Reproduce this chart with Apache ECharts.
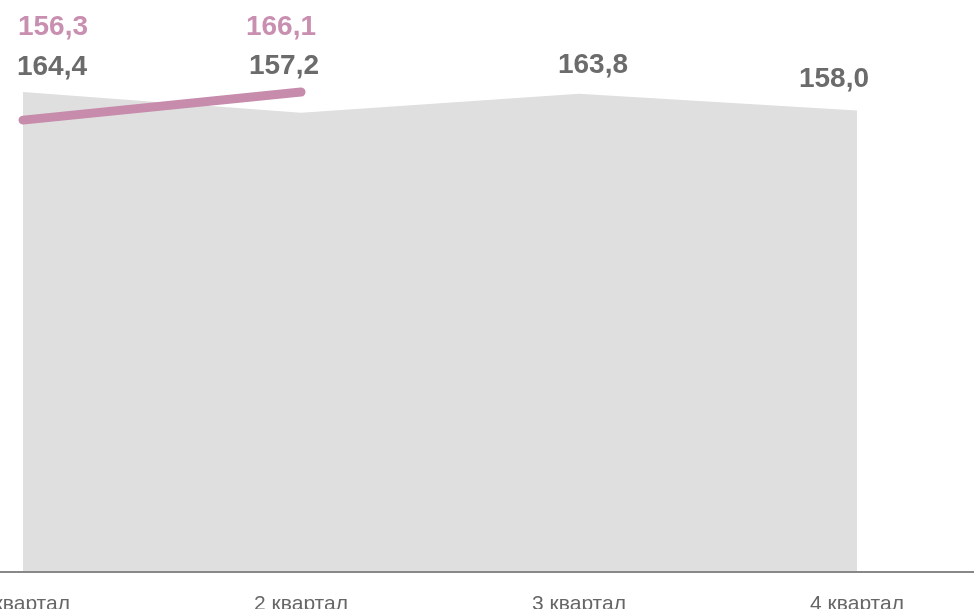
<!DOCTYPE html>
<html>
<head>
<meta charset="utf-8">
<script src="https://cdn.jsdelivr.net/npm/echarts@6/dist/echarts.min.js"></script>
<style>
    html, body { margin: 0; padding: 0; background: #fff; }
    #chart { width: 974px; height: 609px; }
</style>
</head>
<body>
<div id="chart"></div>
<script>
// Quarters on the x axis
const quarters = ['1 квартал', '2 квартал', '3 квартал', '4 квартал'];
// Grey area (previous year)
const greyValues = [164.4, 157.2, 163.8, 158.0];
// Pink line (current year, first two quarters only)
const pinkValues = [156.3, 166.1, null, null];

const fmt = v => v.toFixed(1).replace('.', ',');

document.addEventListener('DOMContentLoaded', function() {
    const myChart = echarts.init(document.getElementById('chart'));

    // label nudges, relative to each point (labels in the picture are not aligned evenly)
    const greyOffsets = [[29, -25], [-17, -46], [14, -28], [-23, -31]];
    const pinkOffsets = [[30, -93], [-20, -65]];

    const greyData = greyValues.map((v, i) => ({
        value: v,
        label: { offset: greyOffsets[i] }
    }));
    const pinkData = pinkValues.map((v, i) => v === null ? null : ({
        value: v,
        label: { offset: pinkOffsets[i] }
    }));

    const labelBase = {
        show: true,
        position: 'inside',
        fontFamily: 'Liberation Sans, Arial, sans-serif',
        fontWeight: 'bold',
        fontSize: 28,
        formatter: p => fmt(p.value)
    };

    const option = {
        animation: false,
        grid: [
            { left: 23, right: 117, top: 20, bottom: 37, outerBoundsMode: 'none' },
            // full-width grid, used only for the baseline
            { left: 0, right: 0, top: 20, bottom: 37, outerBoundsMode: 'none' }
        ],
        xAxis: [
            {
                type: 'category',
                data: quarters,
                boundaryGap: false,
                axisLine: { show: false },
                axisTick: { show: false },
                axisLabel: {
                    color: '#666',
                    fontSize: 21,
                    fontFamily: 'Liberation Sans, Arial, sans-serif',
                    margin: 22,
                    interval: 0
                }
            },
            {
                type: 'value',
                gridIndex: 1,
                min: 0,
                max: 1,
                z: 10,
                axisLine: { show: true, lineStyle: { color: '#888', width: 2 } },
                axisTick: { show: false },
                axisLabel: { show: false },
                splitLine: { show: false }
            }
        ],
        yAxis: [
            { type: 'value', min: -2.8, max: 189.5, show: false },
            { type: 'value', min: -1.7, max: 191.3, show: false },
            { type: 'value', gridIndex: 1, show: false }
        ],
        series: [
            {
                name: 'grey',
                type: 'line',
                data: greyData,
                symbol: 'circle',
                symbolSize: 1,
                itemStyle: { color: 'transparent' },
                lineStyle: { width: 0 },
                areaStyle: { color: '#dfdfdf', opacity: 1, origin: 'start' },
                label: Object.assign({}, labelBase, { color: '#6b6b6b' }),
                z: 1
            },
            {
                name: 'pink',
                type: 'line',
                yAxisIndex: 1,
                data: pinkData,
                symbol: 'circle',
                symbolSize: 1,
                itemStyle: { color: 'transparent' },
                lineStyle: { color: '#c78bac', width: 9, cap: 'round' },
                label: Object.assign({}, labelBase, { color: '#c98fb0' }),
                z: 2
            }
        ]
    };

    myChart.setOption(option);
});
</script>
</body>
</html>
